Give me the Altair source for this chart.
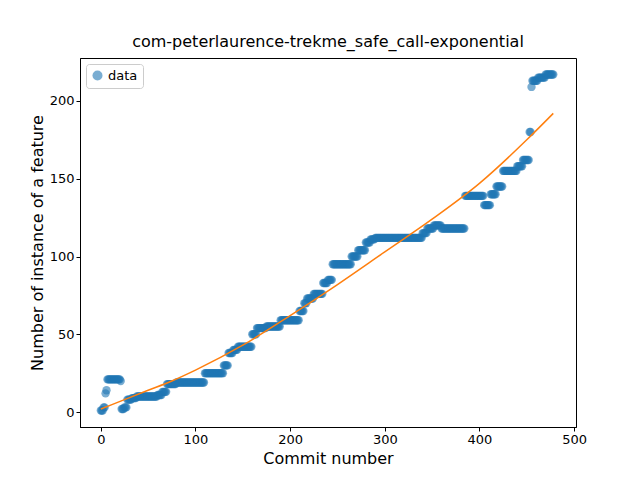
import altair as alt
import pandas as pd

# plateaus: (first commit, last commit, value)
seg_start = [0, 3, 5, 6, 7, 21, 22, 25, 28, 33, 38, 45, 60, 65, 70, 80, 95, 110, 130, 135, 140, 145, 160, 165, 175, 190, 210, 215, 218, 225, 235, 240, 245, 260, 265, 272, 280, 285, 290, 340, 345, 352, 360, 385, 405, 412, 418, 425, 440, 446, 453, 455, 456, 462, 470]
seg_end   = [2, 4, 5, 6, 20, 21, 24, 27, 32, 37, 44, 59, 64, 69, 79, 94, 109, 129, 134, 139, 144, 159, 164, 174, 189, 209, 214, 217, 224, 234, 239, 244, 259, 264, 271, 279, 284, 289, 339, 344, 351, 359, 384, 404, 411, 417, 424, 439, 445, 452, 454, 455, 461, 469, 478]
seg_val   = [1, 3, 12, 14, 21, 20, 2, 3, 8, 9, 10, 10, 11, 13, 18, 19, 19, 25, 30, 38, 40, 42, 50, 54, 55, 59, 65, 70, 73, 76, 83, 85, 95, 95, 100, 104, 109, 111, 112, 115, 118, 120, 118, 139, 133, 140, 145, 155, 158, 162, 180, 209, 213, 215, 217]

fit_x = [0, 25, 50, 75, 100, 150, 200, 250, 300, 350, 400, 450, 478]
fit_y = [2, 8, 14, 20, 27, 43, 62, 82, 103, 124, 147, 175, 192]

xs, ys = [], []
for s, e, v in zip(seg_start, seg_end, seg_val):
    for i in range(s, e + 1):
        xs.append(i)
        ys.append(v)
pts = pd.DataFrame({"x": xs, "y": ys, "series": "data"})
fit = pd.DataFrame({"x": fit_x, "y": fit_y})

xsc = alt.Scale(domain=[-22, 502], nice=False, zero=False)
ysc = alt.Scale(domain=[-9.6, 227.6], nice=False, zero=False)
xax = alt.Axis(values=[0, 100, 200, 300, 400, 500], grid=False, title="Commit number")
yax = alt.Axis(values=[0, 50, 100, 150, 200], grid=False, title="Number of instance of a feature")

points = alt.Chart(pts).mark_circle(size=70, opacity=0.6).encode(
    x=alt.X("x:Q", scale=xsc, axis=xax),
    y=alt.Y("y:Q", scale=ysc, axis=yax),
    color=alt.Color("series:N", scale=alt.Scale(range=["#1f77b4"]),
                    legend=alt.Legend(title=None, orient="top-left", symbolType="circle",
                                      strokeColor="#cccccc", padding=5, cornerRadius=3, offset=6,
                                      labelFontSize=13, symbolOpacity=0.6, fillColor="white")),
)
line = alt.Chart(fit).mark_line(color="#ff7f0e", strokeWidth=1.5, interpolate="monotone").encode(
    x=alt.X("x:Q", scale=xsc), y=alt.Y("y:Q", scale=ysc)
)

chart = alt.layer(points, line).properties(
    width=496, height=369,
    title="com-peterlaurence-trekme_safe_call-exponential",
    autosize=alt.AutoSizeParams(type="none"),
    padding={"left": 72, "top": 50, "right": 40, "bottom": 40},
).configure_view(stroke="black", strokeWidth=1).configure_axis(
    domainColor="black", tickColor="black", labelColor="black", titleColor="black",
    labelFontSize=13, titleFontSize=16, titleFontWeight="normal", labelFont="DejaVu Sans",
    titleFont="DejaVu Sans", tickSize=4,
).configure_title(font="DejaVu Sans", fontSize=16, fontWeight="normal", offset=8
).configure_legend(labelFont="DejaVu Sans")

chart.save("out.html", embed_options={"renderer": "svg", "actions": False})
